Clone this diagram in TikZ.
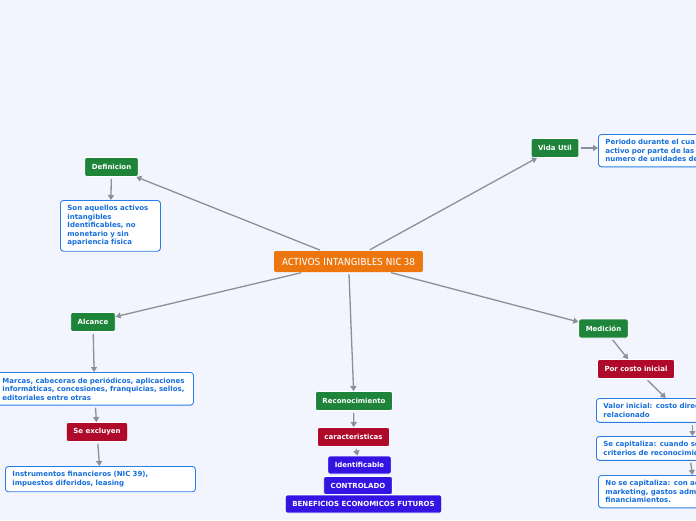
\documentclass[tikz,border=0pt]{standalone}
\usepackage{fontspec}
\setmainfont{DejaVu Sans}
\newfontfamily\titlefont{Fira Sans}
\usetikzlibrary{arrows.meta,positioning}
\definecolor{bgblue}{RGB}{242,245,254}
\definecolor{topicgreen}{RGB}{30,132,58}
\definecolor{topicred}{RGB}{176,10,42}
\definecolor{topicviolet}{RGB}{52,20,226}
\definecolor{rootorange}{RGB}{237,118,14}
\definecolor{notetext}{RGB}{22,110,220}
\definecolor{noteline}{RGB}{40,125,232}
\definecolor{linkgray}{RGB}{138,143,152}
\tikzset{
  root/.style   = {fill=rootorange, text=white, rounded corners=2pt, minimum height=21pt,
                   inner xsep=8pt, font=\titlefont\fontsize{10.3}{12}\selectfont},
  topic/.style  = {draw=white, line width=0.8pt, text=white, rounded corners=2pt,
                   minimum height=19pt, inner xsep=7pt, font=\bfseries\fontsize{7}{8}\selectfont},
  branch/.style = {topic, fill=topicgreen},
  detail/.style = {topic, fill=topicred},
  trait/.style  = {topic, fill=topicviolet, minimum height=18pt},
  note/.style   = {draw=noteline, line width=0.9pt, fill=white, rounded corners=3pt,
                   text=notetext, align=left, inner xsep=7pt, inner ysep=5pt, anchor=north west,
                   font=\bfseries\fontsize{7}{8.5}\selectfont},
  link/.style   = {draw=linkgray, line width=1.3pt, -{Triangle[length=5pt,width=6pt]},
                   shorten <=2pt},
}
\begin{document}
\begin{tikzpicture}[x=1pt,y=-1pt]
  \useasboundingbox (0,0) rectangle (696,520);
  \clip (0,0) rectangle (696,520);
  \fill[bgblue] (0,0) rectangle (696,520);

  \node[root] (nic) at (348.5,261.5) {ACTIVOS INTANGIBLES NIC 38};

  \node[branch] (def) at (111.5,167) {Definicion};
  \node[note, text width=86pt] (defnote) at (60,200)
    {Son aquellos activos\\intangibles\\Identificables, no\\monetario y sin\\apariencia física};

  \node[branch] (alc) at (93,322) {Alcance};
  \node[note, text width=184pt] (marcas) at (-5,372)
    {Marcas, cabeceras de periódicos, aplicaciones\\informáticas, concesiones, franquicias, sellos,\\editoriales entre otras};
  \node[detail] (excl) at (97,432) {Se excluyen};
  \node[note, text width=176pt] (instr) at (5,466)
    {Instrumentos financieros (NIC 39),\\impuestos diferidos, leasing};

  \node[branch] (rec) at (354,401) {Reconocimiento};
  \node[detail] (car) at (353.5,437) {caracteristicas};
  \node[trait] (ident) at (359.5,465) {Identificable};
  \node[trait] (ctrl) at (358,485.5) {CONTROLADO};
  \node[trait] (benef) at (363.5,504) {BENEFICIOS ECONOMICOS FUTUROS};

  \node[branch] (vida) at (555,148) {Vida Util};
  \node[note, text width=150pt] (vidanote) at (598,134)
    {Periodo durante el cua\\activo por parte de las\\numero de unidades de};

  \node[branch] (med) at (603.5,328.5) {Medición};
  \node[detail] (costo) at (636,369) {Por costo inicial};
  \node[note, text width=150pt] (valor) at (596,398) {Valor inicial: costo direc\\relacionado};
  \node[note, text width=150pt] (capit) at (596,436) {Se capitaliza: cuando se\\criterios de reconocimie};
  \node[note, text width=150pt] (nocap) at (598,475)
    {No se capitaliza: con ac\\marketing, gastos adm\\financiamientos.};

  \draw[link] (nic) -- (def);
  \draw[link] (nic) -- (vida);
  \draw[link] (nic) -- (alc);
  \draw[link] (nic) -- (rec);
  \draw[link] (nic) -- (med);
  \draw[link] (def) -- (defnote);
  \draw[link] (alc) -- (marcas);
  \draw[link] (marcas) -- (excl);
  \draw[link] (excl) -- (instr);
  \draw[link] (rec) -- (car);
  \draw[link] (car) -- (ident);
  \draw[link] (vida.east) -- (vida.east -| vidanote.west);
  \draw[link] (med) -- (costo);
  \draw[link] (costo) -- (valor);
  \draw[link] ([xshift=14pt]valor.south) -- ([xshift=14pt]capit.north);
  \draw[link] ([xshift=12pt]capit.south) -- ([xshift=12pt]nocap.north);
\end{tikzpicture}
\end{document}
